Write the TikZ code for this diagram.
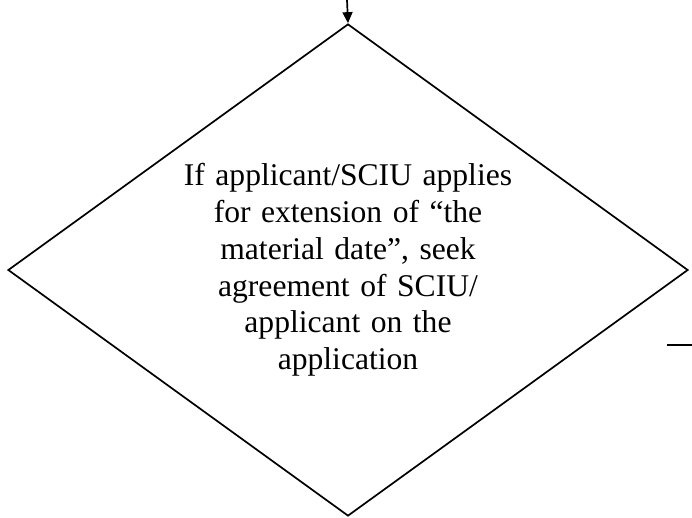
\documentclass[tikz,border=0pt]{standalone}
\usepackage{fontspec}
\setmainfont{Liberation Serif}
\usetikzlibrary{arrows.meta,shapes.geometric}

\begin{document}
\begin{tikzpicture}[x=1pt, y=-1pt, line width=1.7pt]
            \useasboundingbox (0, 0) rectangle (692, 517);
            %\draw[lightgray] (0, 0) grid[step=50] (692, 517);
            \node[draw, diamond, aspect=1.382, minimum width=680pt, minimum height=492pt, inner sep=0pt,
                  text width=340pt, align=center, font=\fontsize{31.6}{36.8}\selectfont] (check) at (348, 270)
                  {If applicant/SCIU applies\\ for extension of ``the\\ material date'', seek\\ agreement of SCIU/\\ applicant on the\\ application};
            \coordinate (in) at (347, 0);
            \draw[-{Triangle[length=11pt, width=10pt]}] (in) -- (check.north);
            \coordinate (outA) at (667, 345);
            \coordinate (outB) at (692, 345);
            \draw[line width=2.4pt] (outA) -- (outB);
        \end{tikzpicture}
\end{document}
